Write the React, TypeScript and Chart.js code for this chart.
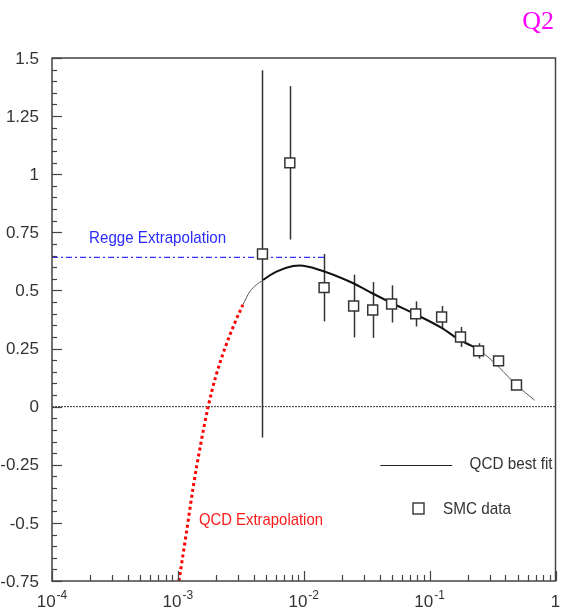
import React, { useEffect, useRef } from "react";
import { Chart, registerables } from "chart.js";

Chart.register(...registerables);

// SMC data
const smcX = [0.0047, 0.00775, 0.0145, 0.0249, 0.0353, 0.0499, 0.0775, 0.1245, 0.176, 0.245, 0.353, 0.49];
const smcY = [0.657, 1.049, 0.512, 0.433, 0.416, 0.442, 0.399, 0.386, 0.3, 0.24, 0.197, 0.093];
const smcErr = [0.79, 0.33, 0.145, 0.135, 0.12, 0.08, 0.054, 0.047, 0.043, 0.033, 0.02, 0.015];

// QCD best fit curve
const fitX = [0.00328, 0.00373, 0.00475, 0.00607, 0.00822, 0.0093, 0.0134, 0.0245, 0.0347, 0.0499, 0.0789, 0.1245, 0.173, 0.249, 0.353, 0.49, 0.681];
const fitY = [0.438, 0.495, 0.545, 0.581, 0.605, 0.607, 0.588, 0.532, 0.489, 0.446, 0.395, 0.339, 0.287, 0.243, 0.171, 0.093, 0.028];
const fitThickFrom = 0.0047;
const fitThickTo = 0.25;

// QCD extrapolation (red dotted)
const extrapX = [0.00102, 0.00117, 0.00132, 0.00152, 0.00174, 0.002, 0.00236, 0.00283, 0.00328];
const extrapY = [-0.75, -0.54, -0.35, -0.16, 0.0, 0.13, 0.25, 0.36, 0.438];

// Regge extrapolation (blue dash-dot)
const reggeX = [0.0001, 0.0145];
const reggeY = [0.642, 0.642];

// Zero line
const zeroX = [0.0001, 1];
const zeroY = [0, 0];

// Axis ticks
const yTickValues = [1.5, 1.25, 1, 0.75, 0.5, 0.25, 0, -0.25, -0.5, -0.75];
const yTickLabels = ["1.5", "1.25", "1", "0.75", "0.5", "0.25", "0", "-0.25", "-0.5", "-0.75"];
const xTickValues = [1e-4, 1e-3, 1e-2, 1e-1, 1];
const xTickBase = ["10", "10", "10", "10", "1"];
const xTickExp = ["-4", "-3", "-2", "-1", ""];

const SANS = '"Liberation Sans", Arial, Helvetica, sans-serif';

function fitText(ctx: CanvasRenderingContext2D, text: string, x: number, y: number, size: number, width: number, color: string) {
  ctx.save();
  ctx.font = `${size}px ${SANS}`;
  const w = ctx.measureText(text).width;
  const sx = width / w;
  ctx.translate(x, y);
  ctx.scale(sx, 1);
  ctx.fillStyle = color;
  ctx.textAlign = "left";
  ctx.textBaseline = "alphabetic";
  ctx.fillText(text, 0, 0);
  ctx.restore();
}

export default function App() {
  const ref = useRef<HTMLCanvasElement>(null);

  useEffect(() => {
    const canvas = ref.current!;
    const overlay = {
      id: "overlay",
      beforeDatasetsDraw(chart: any) {
        const { ctx, scales } = chart;
        const x = scales.x, y = scales.y;
        ctx.save();
        ctx.strokeStyle = "#333";
        ctx.lineWidth = 1.5;
        smcX.forEach((xv, i) => {
          const px = Math.round(x.getPixelForValue(xv)) + 0.5;
          const top = y.getPixelForValue(smcY[i] + smcErr[i]);
          const bot = y.getPixelForValue(smcY[i] - smcErr[i]);
          ctx.beginPath();
          ctx.moveTo(px, top);
          ctx.lineTo(px, bot);
          ctx.stroke();
        });
        ctx.restore();
      },
      afterDraw(chart: any) {
        const { ctx, scales, chartArea } = chart;
        const x = scales.x, y = scales.y;
        const { left, right, top, bottom } = chartArea;
        ctx.save();
        // frame
        ctx.strokeStyle = "#444";
        ctx.lineWidth = 1.5;
        ctx.strokeRect(left, top, right - left, bottom - top);

        // y ticks (inside, left)
        ctx.lineWidth = 1.2;
        for (let i = -15; i <= 30; i++) {
          const v = i * 0.05;
          const py = Math.round(y.getPixelForValue(v)) + 0.5;
          const len = i % 5 === 0 ? 10 : 5;
          ctx.beginPath();
          ctx.moveTo(left, py);
          ctx.lineTo(left + len, py);
          ctx.stroke();
        }
        // x ticks (inside, bottom)
        for (let d = -4; d <= 0; d++) {
          for (let m = 1; m <= 9; m++) {
            if (d === 0 && m > 1) break;
            const v = m * Math.pow(10, d);
            const px = Math.round(x.getPixelForValue(v)) + 0.5;
            const len = m === 1 ? 10 : 6;
            ctx.beginPath();
            ctx.moveTo(px, bottom);
            ctx.lineTo(px, bottom - len);
            ctx.stroke();
          }
        }

        // y labels
        ctx.fillStyle = "#333";
        ctx.font = `17px ${SANS}`;
        ctx.textAlign = "right";
        ctx.textBaseline = "middle";
        yTickValues.forEach((v, i) => {
          ctx.fillText(yTickLabels[i], left - 13, y.getPixelForValue(v) + 1);
        });

        // x labels with superscripts
        ctx.textAlign = "left";
        ctx.textBaseline = "alphabetic";
        xTickValues.forEach((v, i) => {
          const px = x.getPixelForValue(v);
          ctx.font = `17px ${SANS}`;
          const bw = ctx.measureText(xTickBase[i]).width;
          ctx.font = `12px ${SANS}`;
          const ew = xTickExp[i] ? ctx.measureText(xTickExp[i]).width + 1 : 0;
          const start = px - (bw + ew) / 2;
          ctx.font = `17px ${SANS}`;
          ctx.fillText(xTickBase[i], start, bottom + 26);
          if (xTickExp[i]) {
            ctx.font = `12px ${SANS}`;
            ctx.fillText(xTickExp[i], start + bw + 1, bottom + 18);
          }
        });

        // annotations
        fitText(ctx, "Regge Extrapolation", x.getPixelForValue(0.000197), y.getPixelForValue(0.704), 17, 137, "#2a2aff");
        fitText(ctx, "QCD Extrapolation", x.getPixelForValue(0.00147), y.getPixelForValue(-0.509), 17, 124, "#ff1a1a");

        // legend
        const lx1 = x.getPixelForValue(0.0406), lx2 = x.getPixelForValue(0.1514);
        const ly = Math.round(y.getPixelForValue(-0.251)) + 0.5;
        ctx.strokeStyle = "#222";
        ctx.lineWidth = 1.2;
        ctx.beginPath();
        ctx.moveTo(lx1, ly);
        ctx.lineTo(lx2, ly);
        ctx.stroke();
        fitText(ctx, "QCD best fit", x.getPixelForValue(0.2077), y.getPixelForValue(-0.269), 17, 83, "#333");
        const sqx = Math.round(x.getPixelForValue(0.0808)) + 0.5;
        const sqy = Math.round(y.getPixelForValue(-0.437)) + 0.5;
        ctx.strokeStyle = "#333";
        ctx.lineWidth = 1.4;
        ctx.strokeRect(sqx - 5.5, sqy - 5.5, 11, 11);
        fitText(ctx, "SMC data", x.getPixelForValue(0.1276), y.getPixelForValue(-0.462), 17, 68, "#333");

        // Q2 title
        ctx.fillStyle = "#ff00ff";
        ctx.font = `26px "Liberation Serif", "Times New Roman", serif`;
        ctx.textAlign = "right";
        ctx.textBaseline = "alphabetic";
        ctx.fillText("Q2", 554, 29);
        ctx.restore();
      },
    };

    const pts = (xs: number[], ys: number[]) => xs.map((v, i) => ({ x: v, y: ys[i] }));

    const chart = new Chart(canvas, {
      type: "line",
      data: {
        datasets: [
          {
            type: "scatter",
            label: "SMC data",
            data: pts(smcX, smcY),
            pointStyle: "rect",
            pointRadius: 7,
            pointBorderWidth: 1.5,
            pointBorderColor: "#333",
            pointBackgroundColor: "#ffffff",
            showLine: false,
          } as any,
          {
            label: "QCD best fit",
            data: pts(fitX, fitY),
            borderColor: "#333",
            borderWidth: 1,
            pointRadius: 0,
            cubicInterpolationMode: "monotone",
            segment: {
              borderWidth: (c: any) =>
                c.p0.parsed.x >= fitThickFrom && c.p1.parsed.x <= fitThickTo ? 2 : 1,
              borderColor: (c: any) =>
                c.p0.parsed.x >= fitThickFrom && c.p1.parsed.x <= fitThickTo ? "#111" : "#555",
            },
          } as any,
          {
            label: "QCD Extrapolation",
            data: pts(extrapX, extrapY),
            borderColor: "#ff0000",
            borderWidth: 3,
            borderDash: [3, 3],
            pointRadius: 0,
            cubicInterpolationMode: "monotone",
          },
          {
            label: "Regge Extrapolation",
            data: pts(reggeX, reggeY),
            borderColor: "#3333ff",
            borderWidth: 1.3,
            borderDash: [6, 3, 2, 3],
            pointRadius: 0,
          },
          {
            label: "zero",
            data: pts(zeroX, zeroY),
            borderColor: "#333",
            borderWidth: 1,
            borderDash: [2, 1],
            pointRadius: 0,
          },
        ],
      },
      options: {
        responsive: false,
        animation: false,
        devicePixelRatio: 1,
        layout: { padding: { left: 52, top: 58, right: 8, bottom: 31 } },
        plugins: { legend: { display: false }, tooltip: { enabled: false }, title: { display: false } },
        scales: {
          x: { type: "logarithmic", min: 1e-4, max: 1, display: false },
          y: { type: "linear", min: -0.75, max: 1.5, display: false },
        },
      },
      plugins: [overlay],
    });
    return () => chart.destroy();
  }, []);

  return (
    <div style={{ position: "fixed", left: 0, top: 0, width: 564, height: 612, background: "#fff" }}>
      <canvas ref={ref} width={564} height={612} style={{ width: 564, height: 612, display: "block" }} />
    </div>
  );
}
